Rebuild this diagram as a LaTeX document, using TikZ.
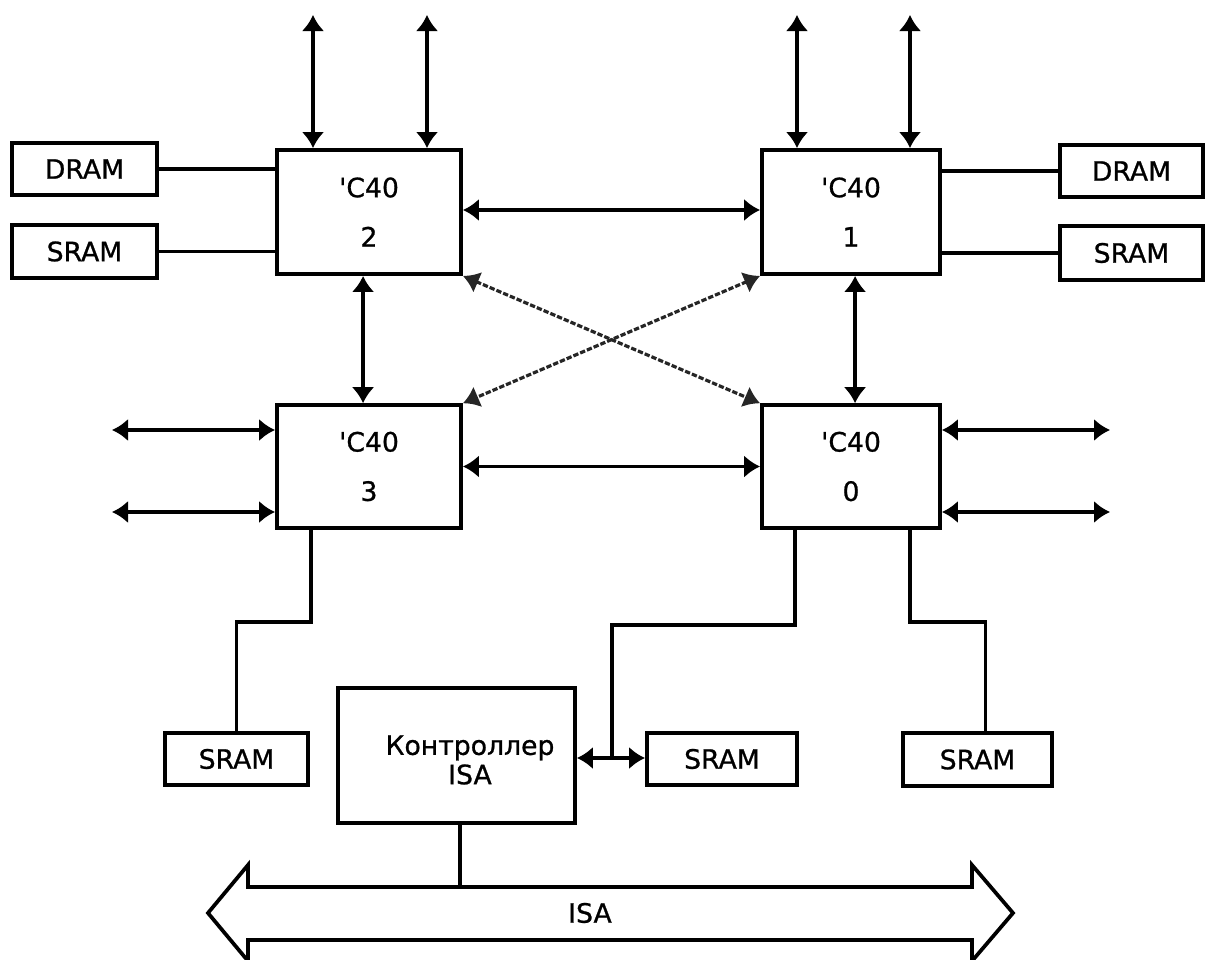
\documentclass[tikz,border=0pt]{standalone}
\usepackage{fontspec}
\setmainfont{DejaVu Sans}
\newfontfamily\diafont{DejaVu Sans}[FakeBold=0.9]
\usetikzlibrary{arrows.meta,calc}
\begin{document}
\begin{tikzpicture}[x=0.75pt,y=-0.75pt,
  line width=2.8pt, line join=miter,
  box/.style={draw,line width=2.9pt,inner sep=0pt,font=\diafont\fontsize{20}{24}\selectfont},
  cpu/.style={box,align=center,font=\diafont\fontsize{20}{37}\selectfont},
  biarrow/.style={{Latex[length=12pt,width=17pt]}-{Latex[length=12pt,width=17pt]}},
  diag/.style={biarrow,black!85,line width=2.4pt,dash pattern=on 4pt off 1.5pt}
]
\useasboundingbox (0,0) rectangle (1214,960);

% processors
\node[cpu,minimum width=138pt,minimum height=93pt] (b2) at (369,212) {\textquotesingle C40\\2};
\node[cpu,minimum width=133.5pt,minimum height=93pt] (b1) at (851,212) {\textquotesingle C40\\1};
\node[cpu,minimum width=138pt,minimum height=92pt] (b3) at (369,466.5) {\textquotesingle C40\\3};
\node[cpu,minimum width=133.5pt,minimum height=92pt] (b0) at (851,466.5) {\textquotesingle C40\\0};

% memories
\node[box,minimum width=108.75pt,minimum height=39pt] (dramL) at (84.5,169) {DRAM};
\node[box,minimum width=108.75pt,minimum height=39.75pt] (sramL) at (84.5,251.5) {SRAM};
\node[box,minimum width=107.25pt,minimum height=39pt] (dramR) at (1131.5,171) {DRAM};
\node[box,minimum width=107.25pt,minimum height=40.5pt] (sramR) at (1131.5,253) {SRAM};
\node[box,minimum width=107.25pt,minimum height=39pt] (sramBL) at (236.5,759) {SRAM};
\node[box,minimum width=112.5pt,minimum height=39pt] (sramM) at (722,759) {SRAM};
\node[box,minimum width=111.75pt,minimum height=39.75pt] (sramBR) at (977.5,759.5) {SRAM};

% ISA controller
\node[box,minimum width=177.75pt,minimum height=101.25pt] (ctrl) at (456.5,755.5) {};
\node[align=center,font=\diafont\fontsize{20}{22}\selectfont] (ctrlText) at (470,760) {Контроллер\\ISA};

% memory links
\draw (dramL.east) -- (dramL.east -| b2.west);
\draw (sramL.east) -- (sramL.east -| b2.west);
\draw (dramR.west) -- (dramR.west -| b1.east);
\draw (sramR.west) -- (sramR.west -| b1.east);

% top links
\coordinate (t2a) at (313,15);
\coordinate (t2b) at (427,15);
\coordinate (t1a) at (797,15);
\coordinate (t1b) at (910,15);
\draw[biarrow] (t2a) -- (t2a |- b2.north);
\draw[biarrow] (t2b) -- (t2b |- b2.north);
\draw[biarrow] (t1a) -- (t1a |- b1.north);
\draw[biarrow] (t1b) -- (t1b |- b1.north);

% processor links
\draw[biarrow] ($(b2.east)+(0,-2)$) -- ($(b1.west)+(0,-2)$);
\draw[biarrow] (b3.east) -- (b0.west);
\draw[biarrow] ($(b2.south west)+(88,0)$) -- ($(b3.north west)+(88,0)$);
\draw[biarrow] ($(b1.south west)+(95,0)$) -- ($(b0.north west)+(95,0)$);
\draw[diag] (b2.south east) -- (b0.north west);
\draw[diag] (b1.south west) -- (b3.north east);

% side links
\coordinate (l1) at (112,430);
\coordinate (l2) at (112,512);
\coordinate (r1) at (1110,430);
\coordinate (r2) at (1110,512);
\draw[biarrow] (l1) -- (l1 -| b3.west);
\draw[biarrow] (l2) -- (l2 -| b3.west);
\draw[biarrow] (r1 -| b0.east) -- (r1);
\draw[biarrow] (r2 -| b0.east) -- (r2);

% bottom links
\draw ($(b3.south west)+(36,0)$) -- ++(0,92) -| (sramBL.north);
\coordinate (jn) at (612,758);
\draw ($(b0.south west)+(35,0)$) -- ++(0,95) -| (jn);
\draw ($(b0.south east)+(-32,0)$) -- ++(0,92) -| ($(sramBR.north)+(8,0)$);
\draw[biarrow] (ctrl.east |- jn) -- (sramM.west |- jn);

% ISA bus
\coordinate (busTop) at (460,887);
\draw (248,887) -- (972,887) -- (972,865) -- (1013,913) -- (972,961) -- (972,940)
  -- (248,940) -- (248,961) -- (208,913) -- (248,865) -- cycle;
\node[font=\diafont\fontsize{20}{24}\selectfont] (isa) at (590,913) {ISA};
\draw (ctrl.south -| busTop) -- (busTop);
\end{tikzpicture}
\end{document}
